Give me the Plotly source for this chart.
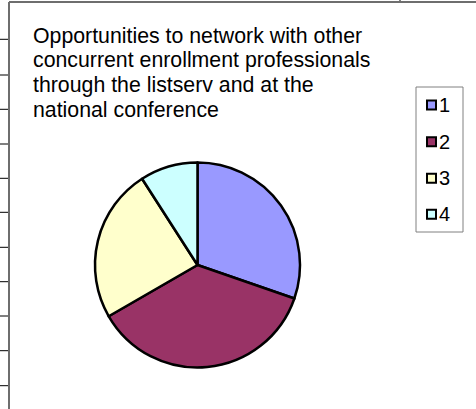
import plotly.graph_objects as go

# ---- data ----
labels = ["1", "2", "3", "4"]
values = [10, 12, 8, 3]
colors = ["#9999FF", "#993366", "#FFFFCC", "#CCFFFF"]
title_lines = [
    "Opportunities to network with other",
    "concurrent enrollment professionals",
    "through the listserv and at the",
    "national conference",
]

W, H = 476, 409
FONT = "Liberation Sans, Arial, sans-serif"

def px(x):
    return x / W

def py(y):
    return 1 - y / H

fig = go.Figure()

# pie: center ~ (197.5, 265), radius ~102.5
cx, cy, r = 197.5, 265, 102.5
fig.add_trace(go.Pie(
    labels=labels,
    values=values,
    marker=dict(colors=colors, line=dict(color="black", width=2.5)),
    sort=False,
    direction="clockwise",
    rotation=0,
    textinfo="none",
    showlegend=False,
    domain=dict(x=[px(cx - r), px(cx + r)], y=[py(cy + r), py(cy - r)]),
))

shapes = []
annotations = []

# spreadsheet-like background gridlines on the left
for gy in [39.3, 75, 109.3, 144, 178.3, 212.3, 247.3, 281.7, 316, 350.7, 385.7]:
    shapes.append(dict(type="line", xref="paper", yref="paper",
                       x0=0, x1=px(9), y0=py(gy), y1=py(gy),
                       line=dict(color="black", width=1)))
# tick at top
shapes.append(dict(type="line", xref="paper", yref="paper",
                   x0=px(400), x1=px(400), y0=py(0), y1=py(2),
                   line=dict(color="black", width=1)))
# chart area border (top and left)
shapes.append(dict(type="line", xref="paper", yref="paper",
                   x0=px(9), x1=1, y0=py(2), y1=py(2),
                   line=dict(color="#6e6e6e", width=2)))
shapes.append(dict(type="line", xref="paper", yref="paper",
                   x0=px(9), x1=px(9), y0=py(2), y1=0,
                   line=dict(color="#6e6e6e", width=2)))

# title lines
baselines = [43, 67.7, 92.4, 117]
for line, b in zip(title_lines, baselines):
    annotations.append(dict(
        text=line, xref="paper", yref="paper",
        x=px(32), y=py(b - 7.4), xanchor="left", yanchor="middle",
        showarrow=False, font=dict(family=FONT, size=21.3, color="black"),
        borderpad=0,
    ))

# legend box
shapes.append(dict(type="rect", xref="paper", yref="paper",
                   x0=px(416), x1=px(463), y0=py(87), y1=py(232),
                   line=dict(color="#808080", width=1), fillcolor="white", layer="below"))
item_y = [105, 141.7, 178.3, 214.3]
for lab, col, iy in zip(labels, colors, item_y):
    shapes.append(dict(type="rect", xref="paper", yref="paper",
                       x0=px(427), x1=px(436), y0=py(iy + 4.5), y1=py(iy - 4.5),
                       line=dict(color="black", width=2), fillcolor=col))
    annotations.append(dict(
        text=lab, xref="paper", yref="paper",
        x=px(438), y=py(iy), xanchor="left", yanchor="middle",
        showarrow=False, font=dict(family=FONT, size=20, color="black"),
        borderpad=0,
    ))

fig.update_layout(
    width=W, height=H,
    margin=dict(l=0, r=0, t=0, b=0),
    paper_bgcolor="white",
    plot_bgcolor="white",
    shapes=shapes,
    annotations=annotations,
    showlegend=False,
)

fig.write_html("out.html")
